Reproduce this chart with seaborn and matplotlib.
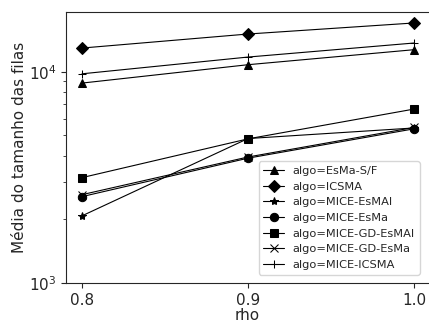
import pandas as pd
import matplotlib
matplotlib.use("Agg")
import matplotlib.pyplot as plt
import seaborn as sns

rho = [0.8, 0.9, 1.0]
algos = ['EsMa-S/F', 'ICSMA', 'MICE-EsMAI', 'MICE-EsMa', 'MICE-GD-EsMAI', 'MICE-GD-EsMa', 'MICE-ICSMA']
esma_sf = [8840, 10800, 12720]
icsma = [12950, 15090, 17020]
mice_esmai = [2080, 4830, 5420]
mice_esma = [2565, 3900, 5370]
mice_gd_esmai = [3155, 4814, 6660]
mice_gd_esma = [2620, 3950, 5450]
mice_icsma = [9780, 11740, 13680]
markers = ['^', 'D', '*', 'o', 's', 'x', '+']

series = [esma_sf, icsma, mice_esmai, mice_esma, mice_gd_esmai, mice_gd_esma, mice_icsma]
rows = []
for name, vals in zip(algos, series):
    for r, v in zip(rho, vals):
        rows.append({'rho': r, 'algo': name, 'fila': v})
df = pd.DataFrame(rows)

sns.set_style('ticks')
plt.rcParams['font.family'] = ['DejaVu Sans']
fig, ax = plt.subplots(figsize=(4.29, 3.22), dpi=100)
fig.subplots_adjust(left=0.154, right=1.0, bottom=0.121, top=0.963)

for name, m in zip(algos, markers):
    sns.lineplot(data=df[df['algo'] == name], x='rho', y='fila', marker=m,
                 color='black', linewidth=0.8, markersize=6, markeredgecolor='black',
                 label='algo=' + name, ax=ax)
ax.set_yscale('log')
ax.set_ylim(1000, 19200)
ax.set_xlim(0.7904, 1.009)
ax.set_xticks(rho)
ax.set_xticklabels(['0.8', '0.9', '1.0'])
ax.tick_params(labelsize=11)
ax.set_xlabel('rho', fontsize=11, labelpad=0)
ax.set_ylabel('Média do tamanho das filas', fontsize=11, labelpad=1)
sns.despine(ax=ax, right=True, top=False)

ax.legend(loc='lower right', fontsize=8.2, handlelength=1.8,
          bbox_to_anchor=(0.99, 0.01))
fig.savefig('out.png', dpi=100)
